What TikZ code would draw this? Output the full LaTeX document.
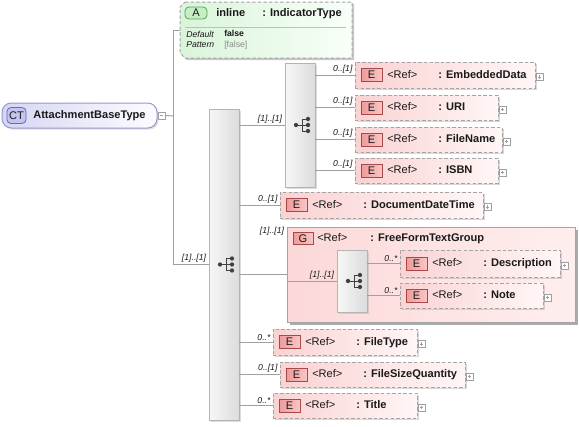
\documentclass[tikz,border=0pt]{standalone}
\usepackage{fontspec}
\setmainfont{Liberation Sans}
\usetikzlibrary{calc,shadows}
\definecolor{lineg}{HTML}{A0A0A0}
\definecolor{dashg}{HTML}{A4A4A4}
\definecolor{epinkL}{HTML}{FAD2D2}
\definecolor{epinkR}{HTML}{FFF6F6}
\definecolor{ebadL}{HTML}{F09A9A}
\definecolor{ebadR}{HTML}{F8C6C6}
\definecolor{ebadB}{HTML}{A84848}
\definecolor{grpL}{HTML}{FCD8D8}
\definecolor{grpR}{HTML}{FFEEEE}
\definecolor{ctL}{HTML}{D6D6F4}
\definecolor{ctR}{HTML}{FCFCFF}
\definecolor{ctB}{HTML}{9898C8}
\definecolor{ctbadF}{HTML}{C4C4F0}
\definecolor{ctbadB}{HTML}{6A6AAA}
\definecolor{atL}{HTML}{DAF4DA}
\definecolor{atR}{HTML}{F8FFF8}
\definecolor{abadF}{HTML}{C6EEC6}
\definecolor{abadB}{HTML}{58A058}
\definecolor{seqL}{HTML}{F7F7F7}
\definecolor{seqR}{HTML}{DCDCDC}
\definecolor{seqB}{HTML}{B4B4B4}
\definecolor{txt}{HTML}{1A1A1A}
\definecolor{softtxt}{HTML}{8A8A8A}
\tikzset{
  conn/.style={draw=lineg, line width=0.75pt},
  wh/.style 2 args={minimum width={#1*0.75pt}, minimum height={#2*0.75pt}, inner sep=0pt, outer sep=0pt},
  ebox/.style={draw=dashg, dash pattern=on 2.6pt off 1.6pt, line width=0.75pt, left color=epinkL, right color=epinkR,
    drop shadow={shadow xshift=1.5pt, shadow yshift=-1.5pt, fill=black!30, opacity=0.5}},
  gbox/.style={draw=dashg, line width=0.75pt, left color=grpL, right color=grpR,
    drop shadow={shadow xshift=2.2pt, shadow yshift=-2.2pt, fill=black!55, opacity=0.6}},
  seqbox/.style={draw=seqB, line width=0.75pt, left color=seqL, right color=seqR,
    drop shadow={shadow xshift=1.5pt, shadow yshift=-1.5pt, fill=black!30, opacity=0.45}},
  ebadge/.style={draw=ebadB, line width=0.6pt, left color=ebadL, right color=ebadR, wh={21}{13},
    font=\fontsize{8.3}{9}\selectfont, text=txt},
  bname/.style={font=\fontsize{8.3}{10}\selectfont\bfseries, text=txt, inner sep=0pt, text height=6.2pt, text depth=1.7pt},
  rtext/.style={font=\fontsize{8.3}{10}\selectfont, text=txt, inner sep=0pt, text height=6.2pt, text depth=1.7pt},
  card/.style={font=\fontsize{6.5}{7}\selectfont\itshape, text=txt, inner sep=0.5pt},
  small/.style={font=\fontsize{6.5}{7}\selectfont, text=txt, inner sep=0pt, text height=4.8pt, text depth=1.3pt},
  pbox/.style={draw=lineg, fill=white, line width=0.5pt, wh={7}{7}},
  pline/.style={draw=lineg, line width=0.5pt},
  seqicon/.pic={
    \draw[black!75, line width=0.6pt] (-4,0) -- (2,0) (2,-6) -- (2,6) (2,-6) -- (8,-6) (2,0) -- (8,0) (2,6) -- (8,6);
    \fill[black!75] (-4,0) circle (1.6pt) (8,-6) circle (1.6pt) (8,0) circle (1.6pt) (8,6) circle (1.6pt);
  }
}
\newcommand\plusmark[1]{%
  \draw[pline] ([xshift=1.3pt]#1.west) -- ([xshift=-1.3pt]#1.east);
  \draw[pline] ([yshift=-1.3pt]#1.north) -- ([yshift=1.3pt]#1.south);}
\newcommand\elembox[7]{%
  \node[ebox, wh={#4}{#5}, anchor=north west] (#1) at (#2,#3) {};
  \node[ebadge, anchor=west] (#1-b) at ([xshift=4.5pt]#1.west) {E};
  \node[rtext, anchor=west] (#1-r) at ([xshift=24pt]#1.west) {<Ref>};
  \node[bname, anchor=west] (#1-n) at ([xshift=62.25pt]#1.west) {: #6};
  \node[pbox, anchor=west] (#1-p) at ([xshift=0.9pt,yshift=-1.5pt]#1.east) {};
  \plusmark{#1-p}
  \node[card, anchor=south east] (#1-c) at ([xshift=-1.2pt,yshift=0.6pt]#1.west) {#7};}
\begin{document}
\begin{tikzpicture}[x=0.75pt,y=-0.75pt]
\useasboundingbox (0,0) rectangle (579,426);

% ---------- complex type ----------
\node[draw=ctB, line width=0.75pt, left color=ctL, right color=ctR, rounded corners=7pt, wh={155}{25},
  anchor=north west, drop shadow={shadow xshift=1.2pt, shadow yshift=-1.2pt, fill=black!25, opacity=0.5}] (ct) at (2,103) {};
\node[draw=ctbadB, line width=0.6pt, fill=ctbadF, rounded corners=3pt, wh={19}{16}, anchor=west,
  font=\fontsize{8.3}{10}\selectfont, text=txt] (ctb) at ([xshift=3.75pt]ct.west) {CT};
\node[bname, anchor=west] (ctn) at ([xshift=23.25pt]ct.west) {AttachmentBaseType};
\node[pbox, anchor=west] (ctm) at ([xshift=0.75pt]ct.east) {};
\draw[pline] ([xshift=1.3pt]ctm.west) -- ([xshift=-1.3pt]ctm.east);

% ---------- attribute ----------
\node[wh={172}{56}, anchor=north west] (attr) at (180,2) {};
\fill[black!22] ($(attr.north west)+(7,2)$) -- ($(attr.north east)+(2,2)$) -- ($(attr.south east)+(2,2)$)
  -- ($(attr.south west)+(7,2)$) -- ($(attr.south west)+(2,-3)$) -- ($(attr.north west)+(2,7)$) -- cycle;
\draw[draw=dashg, dash pattern=on 2.6pt off 1.6pt, line width=0.75pt, left color=atL, right color=atR]
  ($(attr.north west)+(5,0)$) -- (attr.north east) -- (attr.south east) -- ($(attr.south west)+(5,0)$)
  -- ($(attr.south west)+(0,-5)$) -- ($(attr.north west)+(0,5)$) -- cycle;
\node[draw=abadB, line width=0.6pt, fill=abadF, rounded corners=3pt, wh={22}{12}, anchor=north west,
  font=\fontsize{8.3}{10}\selectfont, text=txt] (ab) at (185,7) {A};
\node[bname, anchor=west] (an) at (216,13) {inline};
\node[bname, anchor=west] (at) at (262,13) {: IndicatorType};
\draw[draw=black!25, line width=0.6pt] (185,27) -- (346,27);
\node[small, anchor=west] (ad1) at (186,35) {\itshape Default};
\node[small, anchor=west] (ad2) at (224,34) {\bfseries false};
\node[small, anchor=west] (ap1) at (186,45) {\itshape Pattern};
\node[small, anchor=west, text=softtxt] (ap2) at (224,45) {[false]};

% ---------- sequences ----------
\node[seqbox, wh={30}{311}, anchor=north west] (seqM) at (209,109) {};
\pic at (seqM) {seqicon};
\node[seqbox, wh={30}{124}, anchor=north west] (seqA) at (285,63) {};
\pic at (seqA) {seqicon};

% ---------- elements under seqA ----------
\elembox{emb}{355}{62}{180}{26}{EmbeddedData}{0..[1]}
\elembox{uri}{355}{95}{143}{25}{URI}{0..[1]}
\elembox{fnm}{355}{127}{147}{25}{FileName}{0..[1]}
\elembox{isbn}{355}{158}{143}{25}{ISBN}{0..[1]}

% ---------- elements under main sequence ----------
\elembox{doc}{280}{192}{203}{26}{DocumentDateTime}{0..[1]}

\node[gbox, wh={288}{95}, anchor=north west] (grp) at (287,227) {};
\node[ebadge, wh={20}{12}, anchor=west] (grp-b) at ([xshift=4.5pt,yshift=-8.6pt]grp.north west) {G};
\node[rtext, anchor=west] (grp-r) at ([xshift=22.5pt,yshift=-8.6pt]grp.north west) {<Ref>};
\node[bname, anchor=west] (grp-n) at ([xshift=62.25pt,yshift=-8.6pt]grp.north west) {: FreeFormTextGroup};
\node[card, anchor=north east] (grp-c) at ([xshift=-1.5pt,yshift=0.9pt]grp.north west) {[1]..[1]};
\node[seqbox, wh={30}{62}, anchor=north west] (seqB) at (337,250) {};
\pic at (seqB) {seqicon};
\elembox{desc}{400}{250}{160}{27}{Description}{0..*}
\elembox{note}{400}{283}{143}{25}{Note}{0..*}

\elembox{ftype}{273}{329}{144}{26}{FileType}{0..*}
\elembox{fsize}{280}{362}{185}{25}{FileSizeQuantity}{0..[1]}
\elembox{title}{273}{393}{144}{25}{Title}{0..*}

% ---------- connectors ----------
\coordinate (trTop) at (173,30);
\coordinate (trJ) at (173,116);
\draw[conn] (ctm.east) -- (trJ);
\draw[conn] (trTop) -- (attr.west |- trTop);
\draw[conn] (trTop) |- (seqM.west);
\node[card, anchor=south east] (seqM-c) at ([xshift=-1.5pt,yshift=0.6pt]seqM.west) {[1]..[1]};

\draw[conn] (seqM.east |- seqA.west) -- (seqA.west);
\node[card, anchor=south east] (seqA-c) at ([xshift=-1.5pt,yshift=0.6pt]seqA.west) {[1]..[1]};
\foreach \e in {emb,uri,fnm,isbn} \draw[conn] (seqA.east |- \e.west) -- (\e.west);
\foreach \e in {doc,grp,ftype,fsize,title} \draw[conn] (seqM.east |- \e.west) -- (\e.west);
\draw[conn] (grp.west |- seqB.west) -- (seqB.west);
\node[card, anchor=south east] (seqB-c) at ([xshift=-1.5pt,yshift=0.6pt]seqB.west) {[1]..[1]};
\foreach \e in {desc,note} \draw[conn] (seqB.east |- \e.west) -- (\e.west);
\end{tikzpicture}
\end{document}
